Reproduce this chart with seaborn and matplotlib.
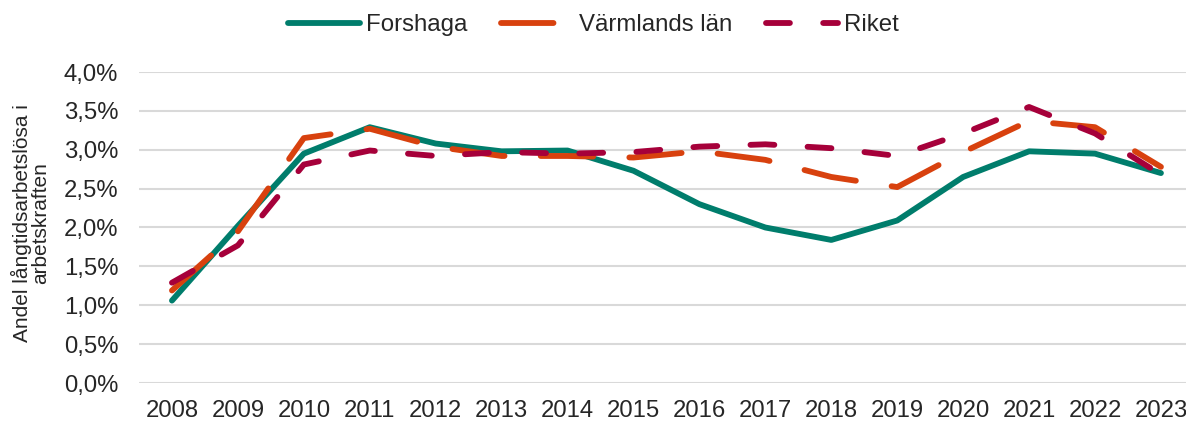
import matplotlib
matplotlib.use("Agg")
import matplotlib.pyplot as plt
from matplotlib.ticker import FuncFormatter
import seaborn as sns
import pandas as pd

years = list(range(2008, 2024))
forshaga = [1.06, 2.02, 2.95, 3.29, 3.08, 2.98, 2.99, 2.73, 2.30, 2.00, 1.84, 2.09, 2.65, 2.98, 2.95, 2.70]
varmland = [1.19, 1.95, 3.15, 3.27, 3.04, 2.92, 2.92, 2.90, 2.98, 2.87, 2.65, 2.52, 2.97, 3.37, 3.29, 2.78]
riket = [1.29, 1.77, 2.81, 2.99, 2.92, 2.97, 2.95, 2.97, 3.04, 3.07, 3.02, 2.92, 3.21, 3.55, 3.21, 2.68]

df = pd.DataFrame({"year": years, "Forshaga": forshaga,
                   "Värmlands län": varmland, "Riket": riket})

sns.set_style("white")
plt.rcParams["font.family"] = ["Liberation Sans", "DejaVu Sans"]

fig = plt.figure(figsize=(11.86, 4.23), dpi=100)
ax = fig.add_axes([139 / 1186, 40 / 423, (1186 - 139) / 1186, 311 / 423])

lw = 4.2
sns.lineplot(data=df, x="year", y="Forshaga", ax=ax, color="#007d6c", lw=lw,
             label="Forshaga", solid_capstyle="round", solid_joinstyle="round")
sns.lineplot(data=df, x="year", y="Värmlands län", ax=ax, color="#d8410e", lw=lw,
             label="Värmlands län", linestyle=(0, (9, 6.2)),
             dash_capstyle="round", dash_joinstyle="round")
sns.lineplot(data=df, x="year", y="Riket", ax=ax, color="#a6003a", lw=lw,
             label="Riket", linestyle=(0, (4.1, 5.7)),
             dash_capstyle="round", dash_joinstyle="round")

ax.set_ylim(0, 4)
ax.set_yticks([i * 0.5 for i in range(9)])
ax.yaxis.set_major_formatter(FuncFormatter(lambda v, p: f"{v:.1f}%".replace(".", ",")))
ax.set_xlim(2007.5, 2023.38)
ax.set_xticks(years)
ax.tick_params(axis="y", length=0, labelsize=17.2, pad=15)
ax.tick_params(axis="x", length=0, labelsize=17.2, pad=12)
ax.grid(axis="y", color="#d9d9d9", lw=1.5)
ax.set_axisbelow(True)
for s in ax.spines.values():
    s.set_visible(False)
ax.set_xlabel("")
ax.set_ylabel("Andel långtidsarbetslösa i\narbetskraften", fontsize=15, linespacing=0.95)
ax.yaxis.set_label_coords(-0.085, 0.514)

ax.legend(loc="center", bbox_to_anchor=(0.5, 1 - 25 / 423), bbox_transform=fig.transFigure,
          ncol=3, frameon=False, fontsize=17.3, handlelength=3.0, handletextpad=0.25,
          columnspacing=1.4)

fig.savefig("out.png", dpi=100)
